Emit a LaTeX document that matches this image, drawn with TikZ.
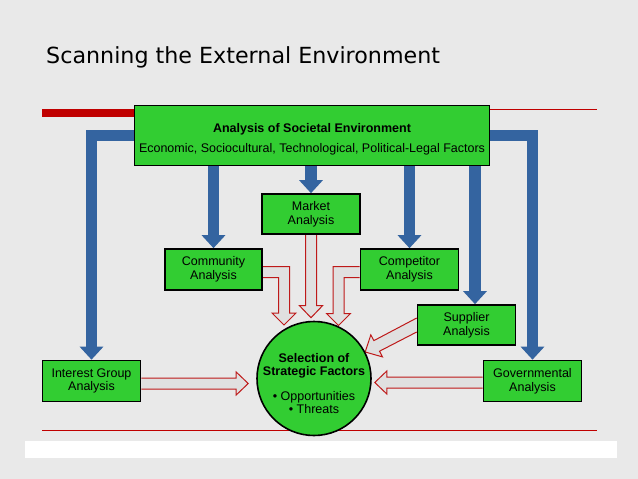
\documentclass[tikz,border=0pt]{standalone}
\usepackage{fontspec}
\setmainfont{Liberation Sans}
\newfontfamily\titlefont{DejaVu Sans}
\usetikzlibrary{arrows.meta,calc}
\definecolor{bgc}{RGB}{233,233,233}
\definecolor{boxgreen}{RGB}{50,205,50}
\definecolor{arrowblue}{RGB}{52,100,160}
\definecolor{linered}{RGB}{192,0,0}
\definecolor{hollowred}{RGB}{190,25,25}
\definecolor{hollowfill}{RGB}{224,224,224}
\pgfdeclarelayer{bglayer}
\pgfdeclarelayer{arrowlayer}
\pgfsetlayers{bglayer,arrowlayer,main}
\newcommand\hollow[1]{\fill[hollowfill] #1 -- cycle; \draw[hollowred, line width=1pt, line join=miter] #1;}
\begin{document}
\begin{tikzpicture}[x=1pt,y=-1pt,
  box/.style={draw=black, line width=1.6pt, fill=boxgreen, align=center, inner sep=0pt,
    font=\fontsize{12.5}{13.8}\selectfont, execute at begin node={\rule{0pt}{11.8pt}}},
  bluearrow/.style={draw=arrowblue, line width=11.5pt, -{Triangle[width=23pt,length=13pt]}}
]
\begin{pgfonlayer}{bglayer}
\fill[bgc] (0,0) rectangle (638,479);
\fill[white] (25,441) rectangle (617,458);
\draw[linered, line width=1pt] (42,109.5) -- (597,109.5);
\fill[linered] (42,109) rectangle (140,117);
\draw[linered, line width=1pt] (42,430) -- (597,430);
\end{pgfonlayer}
\useasboundingbox (0,0) rectangle (638,479);

\node[anchor=base west, inner sep=0pt, font=\titlefont\fontsize{22.2}{26}\selectfont] (title) at (46,63) {Scanning the External Environment};

\node[box, minimum width=355pt, minimum height=60pt] (env) at (312,135.5)
  {\rule{0pt}{16.8pt}\textbf{Analysis of Societal Environment}\\[5.5pt]Economic, Sociocultural, Technological, Political-Legal Factors};
\node[box, minimum width=98pt, minimum height=40pt] (market) at (311,214) {Market\\Analysis};
\node[box, minimum width=97pt, minimum height=41pt] (comm) at (213.5,269.5) {Community\\Analysis};
\node[box, minimum width=98pt, minimum height=41pt] (comp) at (409.5,269.5) {Competitor\\Analysis};
\node[box, minimum width=98pt, minimum height=40pt] (sup) at (466.5,325) {Supplier\\Analysis};
\node[box, minimum width=98pt, minimum height=41pt] (ig) at (91.5,381) {Interest Group\\Analysis};
\node[box, minimum width=98pt, minimum height=41pt] (gov) at (532.5,381) {Governmental\\Analysis};
\node[circle, draw=black, line width=1.6pt, fill=boxgreen, minimum size=114pt, inner sep=0pt] (circ) at (314,378.5) {};
\node[align=center, inner sep=0pt, font=\fontsize{12.5}{12.4}\selectfont] (circtext) at ($(circ.center)+(0,5)$)
  {\textbf{Selection of}\\\textbf{Strategic Factors}\\[13.5pt]• Opportunities\\• Threats};

\begin{pgfonlayer}{arrowlayer}
% blue arrows
\draw[bluearrow] (env.west) -| (ig.north);
\draw[bluearrow] (env.east) -| (gov.north);
\draw[bluearrow] (env.south -| comm.north) -- (comm.north);
\draw[bluearrow] (env.south -| market.north) -- (market.north);
\draw[bluearrow] (env.south -| comp.north) -- (comp.north);
\draw[bluearrow] ($(env.south -| sup.north)+(8.5,0)$) -- ($(sup.north)+(8.5,0)$);

% hollow arrows
\coordinate (mt) at ($(market.south |- circ.north)+(0,-3)$);
\hollow{($(market.south)+(-5.5,0)$) -- ($(mt)+(-5.5,-12)$) -- ($(mt)+(-11.5,-12)$) -- (mt) -- ($(mt)+(11.5,-12)$) -- ($(mt)+(5.5,-12)$) -- ($(market.south)+(5.5,0)$)}

\coordinate (cc) at ($(comm.east)+(0,2.5)$);
\coordinate (ct) at ($(circ.center)+(-30,-53.5)$);
\coordinate (ck) at (ct |- cc);
\hollow{($(cc)+(0,-5.5)$) -- ($(ck)+(5.5,-5.5)$) -- ($(ct)+(5.5,-12)$) -- ($(ct)+(12,-12)$) -- (ct) -- ($(ct)+(-12,-12)$) -- ($(ct)+(-5.5,-12)$) -- ($(ck)+(-5.5,5.5)$) -- ($(cc)+(0,5.5)$)}

\coordinate (pc) at ($(comp.west)+(0,2.5)$);
\coordinate (pt) at ($(circ.center)+(24.5,-53)$);
\coordinate (pk) at (pt |- pc);
\hollow{($(pc)+(0,-5.5)$) -- ($(pk)+(-5.5,-5.5)$) -- ($(pt)+(-5.5,-12)$) -- ($(pt)+(-12,-12)$) -- (pt) -- ($(pt)+(12,-12)$) -- ($(pt)+(5.5,-12)$) -- ($(pk)+(5.5,5.5)$) -- ($(pc)+(0,5.5)$)}

\coordinate (ic) at ($(ig.east)+(0,2.5)$);
\coordinate (it) at ($(ic -| circ.west)+(-8,0)$);
\hollow{($(ic)+(0,-5.5)$) -- ($(it)+(-12,-5.5)$) -- ($(it)+(-12,-11.5)$) -- (it) -- ($(it)+(-12,11.5)$) -- ($(it)+(-12,5.5)$) -- ($(ic)+(0,5.5)$)}

\coordinate (gc) at ($(gov.west)+(0,1.5)$);
\coordinate (gt) at ($(gc -| circ.east)+(3,0)$);
\hollow{($(gc)+(0,-5.5)$) -- ($(gt)+(12,-5.5)$) -- ($(gt)+(12,-11.5)$) -- (gt) -- ($(gt)+(12,11.5)$) -- ($(gt)+(12,5.5)$) -- ($(gc)+(0,5.5)$)}

\coordinate (sc) at (sup.west);
\coordinate (st) at ($(sc)+(-51.5,27)$);
\hollow{($(sc)+(0,-7)$) -- ($(st)+(8.7,-11.4)$) -- ($(st)+(5.6,-17.1)$) -- (st) -- ($(st)+(17.3,4.9)$) -- ($(st)+(14.3,-0.8)$) -- ($(sc)+(0,7)$)}
\end{pgfonlayer}
\end{tikzpicture}
\end{document}
